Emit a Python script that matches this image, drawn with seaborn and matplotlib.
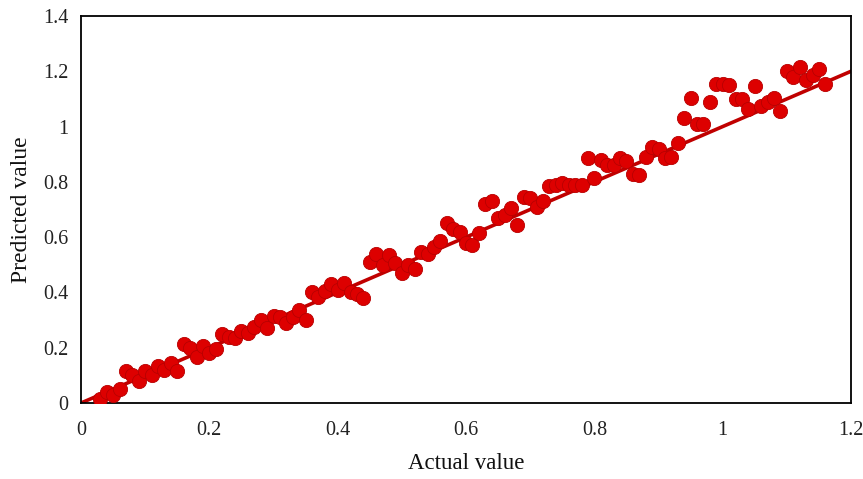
import numpy as np
import pandas as pd
import matplotlib
matplotlib.use("Agg")
import matplotlib.pyplot as plt
import seaborn as sns

actual = [0.03, 0.04, 0.05, 0.06, 0.07, 0.08, 0.09, 0.10, 0.11, 0.12, 0.13, 0.14, 0.15, 0.16, 0.17,
          0.18, 0.19, 0.20, 0.21, 0.22, 0.23, 0.24, 0.25, 0.26, 0.27, 0.28, 0.29, 0.30, 0.31, 0.32,
          0.33, 0.34, 0.35, 0.36, 0.37, 0.38, 0.39, 0.40, 0.41, 0.42, 0.43, 0.44, 0.45, 0.46, 0.47,
          0.48, 0.49, 0.50, 0.51, 0.52, 0.53, 0.54, 0.55, 0.56, 0.57, 0.58, 0.59, 0.60, 0.61, 0.62,
          0.63, 0.64, 0.65, 0.66, 0.67, 0.68, 0.69, 0.70, 0.71, 0.72, 0.73, 0.74, 0.75, 0.76, 0.77,
          0.78, 0.79, 0.80, 0.81, 0.82, 0.83, 0.84, 0.85, 0.86, 0.87, 0.88, 0.89, 0.90, 0.91, 0.92,
          0.93, 0.94, 0.95, 0.96, 0.97, 0.98, 0.99, 1.00, 1.01, 1.02, 1.03, 1.04, 1.05, 1.06, 1.07,
          1.08, 1.09, 1.10, 1.11, 1.12, 1.13, 1.14, 1.15, 1.16]
predicted = [0.015, 0.04, 0.03, 0.05, 0.115, 0.10, 0.08, 0.115, 0.10, 0.135, 0.12, 0.145, 0.115, 0.215, 0.20,
             0.165, 0.205, 0.18, 0.195, 0.25, 0.24, 0.235, 0.26, 0.255, 0.275, 0.30, 0.27, 0.315, 0.31, 0.29,
             0.31, 0.335, 0.30, 0.40, 0.385, 0.405, 0.43, 0.41, 0.435, 0.40, 0.395, 0.38, 0.51, 0.54, 0.50,
             0.535, 0.505, 0.47, 0.50, 0.485, 0.545, 0.54, 0.565, 0.585, 0.65, 0.63, 0.62, 0.58, 0.57, 0.615,
             0.72, 0.73, 0.67, 0.68, 0.705, 0.645, 0.745, 0.74, 0.71, 0.73, 0.785, 0.79, 0.795, 0.79, 0.79,
             0.79, 0.885, 0.815, 0.88, 0.86, 0.86, 0.885, 0.875, 0.83, 0.825, 0.89, 0.925, 0.92, 0.885, 0.89,
             0.94, 1.03, 1.105, 1.01, 1.01, 1.09, 1.155, 1.155, 1.15, 1.10, 1.10, 1.065, 1.145, 1.075, 1.09,
             1.105, 1.055, 1.20, 1.18, 1.215, 1.17, 1.185, 1.21, 1.155]
# 1:1 reference line endpoints
ideal_x = [0.0, 1.2]
ideal_y = [0.0, 1.2]
x_ticks = [0, 0.2, 0.4, 0.6, 0.8, 1.0, 1.2]
x_tick_labels = ["0", "0.2", "0.4", "0.6", "0.8", "1", "1.2"]
y_ticks = [0, 0.2, 0.4, 0.6, 0.8, 1.0, 1.2, 1.4]
y_tick_labels = ["0", "0.2", "0.4", "0.6", "0.8", "1", "1.2", "1.4"]

df = pd.DataFrame({"Actual value": actual, "Predicted value": predicted})
line_df = pd.DataFrame({"x": ideal_x, "y": ideal_y})

sns.set_theme(style="white")
plt.rcParams["font.family"] = ["Liberation Serif", "DejaVu Serif"]

fig = plt.figure(figsize=(8.63, 4.79), dpi=100)
ax = fig.add_axes([81 / 863, 1 - 403 / 479, 770 / 863, 387 / 479])

sns.lineplot(data=line_df, x="x", y="y", ax=ax, color="#c00000", linewidth=2.6, zorder=2)
sns.scatterplot(data=df, x="Actual value", y="Predicted value", ax=ax, s=105,
                color="#dd0000", edgecolor="#b80000", linewidth=0.6, zorder=3)

ax.set_xlim(0, 1.2)
ax.set_ylim(0, 1.4)
ax.set_xticks(x_ticks)
ax.set_xticklabels(x_tick_labels)
ax.set_yticks(y_ticks)
ax.set_yticklabels(y_tick_labels)
ax.tick_params(axis="both", length=0, labelsize=14.5, colors="#222222")
ax.tick_params(axis="x", pad=13)
ax.tick_params(axis="y", pad=9)
ax.set_xlabel("Actual value", fontsize=16.5, labelpad=9, color="#111111")
ax.set_ylabel("Predicted value", fontsize=17, labelpad=8, color="#111111")
for sp in ax.spines.values():
    sp.set_color("black")
    sp.set_linewidth(1.3)
ax.grid(False)

fig.savefig("out.png", dpi=100)
